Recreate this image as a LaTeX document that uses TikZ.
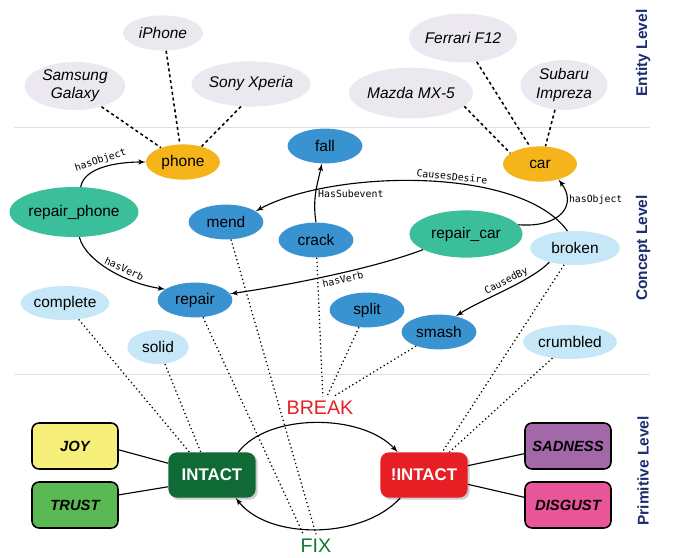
\documentclass[tikz,border=0pt]{standalone}
\usepackage{fontspec}
\setmainfont{Liberation Sans}
\newfontfamily\monofont{DejaVu Sans Mono}
\usepackage{xcolor}
\usetikzlibrary{shapes,arrows,positioning,calc,shadows}

\definecolor{entitygray}{HTML}{ECE8F0}
\definecolor{objyellow}{HTML}{F4B41A}
\definecolor{actgreen}{HTML}{3BBF9B}
\definecolor{conblue}{HTML}{3A93D1}
\definecolor{proplight}{HTML}{C5E7F7}
\definecolor{joyfill}{HTML}{F6F07A}
\definecolor{trustfill}{HTML}{5BB953}
\definecolor{intactfill}{HTML}{0F6A36}
\definecolor{brokenfill}{HTML}{E81E25}
\definecolor{sadfill}{HTML}{A368A8}
\definecolor{disgustfill}{HTML}{E85598}
\definecolor{levelblue}{HTML}{1B2D6E}
\definecolor{sepline}{HTML}{D8E1E7}

\newcommand{\conceptfont}{\fontsize{11}{13}\selectfont}
\newcommand{\edgefont}{\monofont\fontsize{7}{8}\selectfont}

\begin{document}
\begin{tikzpicture}[
        x=0.025cm, y=-0.025cm,
        entity/.style={ellipse, fill=entitygray, inner sep=0pt, align=center, font=\conceptfont\itshape},
        object/.style={ellipse, fill=objyellow, inner sep=0pt, minimum width=1.85cm, minimum height=0.88cm, font=\conceptfont},
        action/.style={ellipse, fill=actgreen, inner sep=0pt, font=\conceptfont},
        concept/.style={ellipse, fill=conblue, inner sep=0pt, minimum width=1.87cm, minimum height=0.87cm, font=\conceptfont},
        property/.style={ellipse, fill=proplight, inner sep=0pt, minimum height=0.85cm, font=\conceptfont},
        emotion/.style={rectangle, draw, rounded corners=5pt, line width=1.1pt, minimum width=2.15cm, minimum height=1.15cm, font=\fontsize{10.5}{12}\selectfont\bfseries\itshape},
        primitive/.style={rectangle, rounded corners=6pt, minimum width=2.18cm, minimum height=1.13cm, text=white, font=\fontsize{12}{14}\selectfont\bfseries, drop shadow={opacity=0.4, shadow xshift=1.5pt, shadow yshift=-1.5pt}},
        level/.style={rotate=90, text=levelblue, font=\fontsize{11}{13}\selectfont\bfseries},
        arrow/.style={draw, -latex', line width=0.8pt},
        link/.style={draw, line width=0.8pt},
        instance/.style={draw, dashed, dash pattern=on 2.2pt off 2pt, line width=1.1pt},
        ground/.style={draw, dotted, line width=0.9pt},
        lbl/.style={font=\edgefont, inner sep=1.5pt}
    ]
    \useasboundingbox (0,0) rectangle (678,558);

    % Level separators and labels
    \draw [sepline, line width=0.7pt] (14,127) -- (650,127);
    \draw [sepline, line width=0.7pt] (14,374) -- (650,374);
    \node [level] (entlevel) at (643,53) {Entity Level};
    \node [level] (conlevel) at (643,248) {Concept Level};
    \node [level] (primlevel) at (643,471) {Primitive Level};

    % Entity level
    \node [entity, minimum width=2.0cm, minimum height=0.88cm] (iphone) at (163,33) {iPhone};
    \node [entity, minimum width=2.52cm, minimum height=1.2cm] (samsung) at (75,86) {Samsung\\Galaxy};
    \node [entity, minimum width=2.52cm, minimum height=1.13cm] (sony) at (251,84) {Sony Xperia};
    \node [entity, minimum width=2.5cm, minimum height=1.22cm] (ferrari) at (463,38) {Ferrari F12};
    \node [entity, minimum width=2.8cm, minimum height=1.27cm] (mazda) at (411,93) {Mazda MX-5};
    \node [entity, minimum width=2.18cm, minimum height=1.25cm] (subaru) at (564,85) {Subaru\\Impreza};

    % Concept level
    \node [object] (phone) at (183,162) {phone};
    \node [object] (car) at (540,164) {car};
    \node [action, minimum width=2.98cm, minimum height=1.25cm] (rphone) at (74,212) {repair\_phone};
    \node [action, minimum width=2.83cm, minimum height=1.18cm] (rcar) at (466,234) {repair\_car};
    \node [concept] (fall) at (325,146) {fall};
    \node [concept] (mend) at (226,222) {mend};
    \node [concept] (crack) at (316,240) {crack};
    \node [concept] (repair) at (195,300) {repair};
    \node [concept] (split) at (367,310) {split};
    \node [concept] (smash) at (439,332) {smash};
    \node [property, minimum width=2.25cm] (broken) at (575,248) {broken};
    \node [property, minimum width=2.1cm] (complete) at (65,303) {complete};
    \node [property, minimum width=1.53cm] (solid) at (158,347) {solid};
    \node [property, minimum width=2.35cm] (crumbled) at (570,342) {crumbled};

    % Primitive level
    \node [emotion, fill=joyfill] (joy) at (75,446) {JOY};
    \node [emotion, fill=trustfill] (trust) at (75,505) {TRUST};
    \node [emotion, fill=sadfill] (sadness) at (568,446) {SADNESS};
    \node [emotion, fill=disgustfill] (disgust) at (568,505) {DISGUST};
    \node [primitive, fill=intactfill] (intact) at (212,475) {INTACT};
    \node [primitive, fill=brokenfill] (notintact) at (424,475) {!INTACT};
    \node [text=brokenfill, font=\fontsize{14}{16}\selectfont] (brk) at (320,408) {BREAK};
    \node [text=intactfill!90!green, font=\fontsize{14}{16}\selectfont] (fix) at (316,546) {FIX};

    % Entities to concepts
    \path [instance] (samsung.-38) -- (phone.147);
    \path [instance] (iphone.-80) -- (phone.100);
    \path [instance] (sony.246) -- (phone.40);
    \path [instance] (mazda.-14) -- (car.160);
    \path [instance] (ferrari.-60) -- (car.120);
    \path [instance] (subaru.250) -- (car.73);

    % Concept relations
    \path [arrow] (rphone.75) .. controls (84,168) and (115,162) .. (phone.west)
        node [lbl, midway, above, sloped] {hasObject};
    \path [arrow] (rphone.-78) .. controls (86,262) and (128,284) .. (repair.160)
        node [lbl, pos=0.6, above, sloped, inner sep=2.5pt] {hasVerb};
    \path [arrow] (crack.north) .. controls (312,198) and (318,182) .. (fall.-100)
        node [lbl, pos=0.45, right] {HasSubevent};
    \path [arrow] (broken.114) .. controls (520,165) and (330,170) .. (mend.20)
        node [lbl, pos=0.42, above, sloped] {CausesDesire};
    \path [arrow] (rcar.10) .. controls (560,228) and (578,205) .. (car.-40)
        node [lbl, pos=0.72, right] {hasObject};
    \path [arrow] (rcar.200) .. controls (375,268) and (290,285) .. (repair.10)
        node [lbl, pos=0.45, below, sloped] {hasVerb};
    \path [arrow] (broken.209) .. controls (530,282) and (480,300) .. (smash.43)
        node [lbl, pos=0.45, above, sloped] {CausedBy};

    % Grounding in primitives
    \path [ground] (complete) -- ([xshift=-16pt]intact.north);
    \path [ground] (solid) -- ([xshift=-8pt]intact.north);
    \path [ground] (repair) -- ([xshift=-9pt]fix.north);
    \path [ground] (mend) -- (fix.north);
    \path [ground] (crack) -- ([xshift=2pt]brk.north);
    \path [ground] (split) -- ([xshift=5pt]brk.north);
    \path [ground] (smash) -- ([xshift=10pt]brk.north);
    \path [ground] (broken) -- ([xshift=13pt]notintact.north);
    \path [ground] (crumbled) -- ([xshift=18pt]notintact.north);

    % Primitive transitions and emotions
    \path [arrow] (intact.41) .. controls (268,413) and (362,413) .. (notintact.139);
    \path [arrow] (notintact.-136) .. controls (362,540) and (268,540) .. (intact.-44);
    \path [link] (joy.-5) -- (intact.165);
    \path [link] (trust.13) -- (intact.195);
    \path [link] (sadness.190) -- (notintact.12);
    \path [link] (disgust.170) -- (notintact.-12);

    \end{tikzpicture}
\end{document}
